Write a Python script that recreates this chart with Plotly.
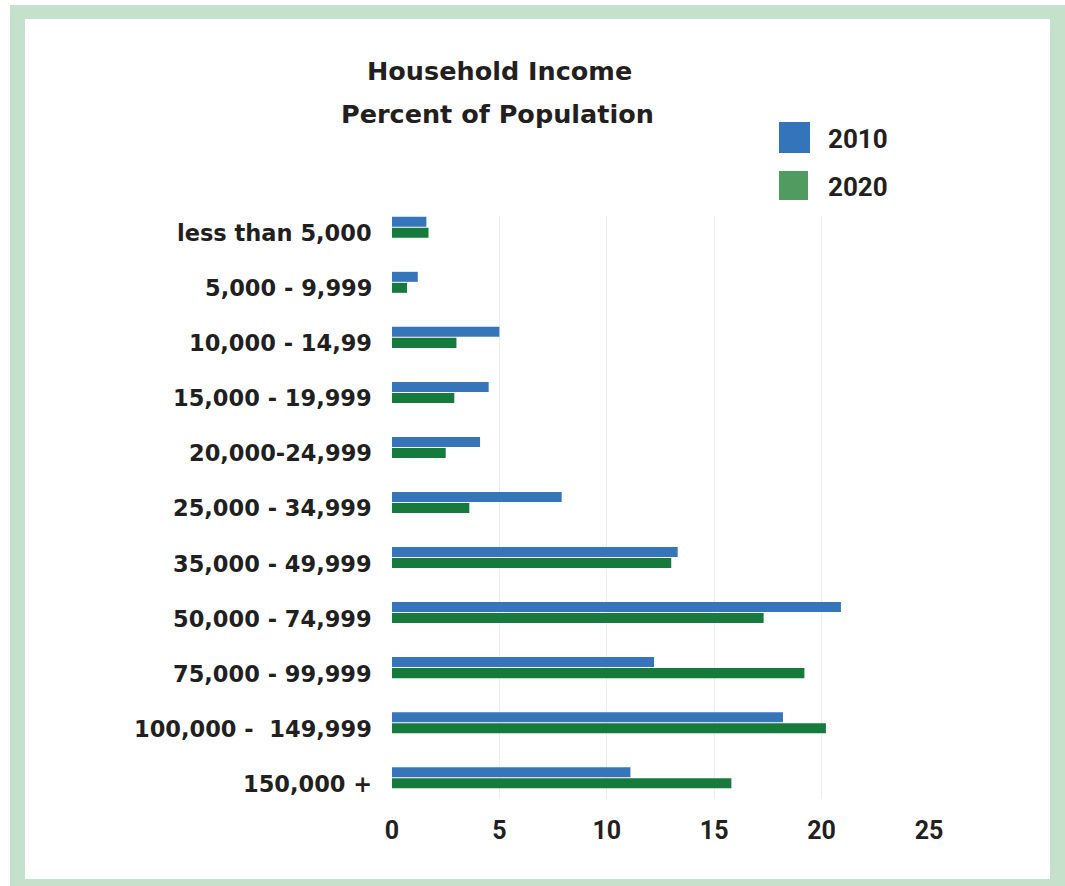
import plotly.graph_objects as go

categories = [
    "less than 5,000", "5,000 - 9,999", "10,000 - 14,99", "15,000 - 19,999",
    "20,000-24,999", "25,000 - 34,999", "35,000 - 49,999", "50,000 - 74,999",
    "75,000 - 99,999", "100,000 -  149,999", "150,000 +",
]
values_2010 = [1.6, 1.2, 5.0, 4.5, 4.1, 7.9, 13.3, 20.9, 12.2, 18.2, 11.1]
values_2020 = [1.7, 0.7, 3.0, 2.9, 2.5, 3.6, 13.0, 17.3, 19.2, 20.2, 15.8]
series_names = ["2010", "2020"]
x_ticks = [0, 5, 10, 15, 20, 25]

W, H = 1065, 886
ML, MR, MT, MB = 392, 136, 216, 87
PW, PH = W - ML - MR, H - MT - MB

def px(x):
    return (x - ML) / PW

def py(y):
    return (H - MB - y) / PH

TEXT = "#231f20"
BLUE = "#3775ba"
GREEN = "#177a3d"
BORDER = "#c5e0cb"
WIDE = "DejaVu Sans"
NARROW = "Roboto"

fig = go.Figure()
fig.add_trace(go.Bar(y=categories, x=values_2010, name=series_names[0], orientation="h",
                     marker=dict(color=BLUE, line=dict(width=0))))
fig.add_trace(go.Bar(y=categories, x=values_2020, name=series_names[1], orientation="h",
                     marker=dict(color=GREEN, line=dict(width=0))))

shapes = [
    dict(type="rect", xref="paper", yref="paper", x0=px(10), x1=px(1070), y0=py(5), y1=py(892),
         fillcolor=BORDER, line=dict(width=0), layer="below"),
    dict(type="rect", xref="paper", yref="paper", x0=px(25), x1=px(1050), y0=py(19), y1=py(879),
         fillcolor="white", line=dict(width=0), layer="below"),
    dict(type="rect", xref="paper", yref="paper", x0=px(779), x1=px(810), y0=py(122), y1=py(153),
         fillcolor="#3474ba", line=dict(width=0)),
    dict(type="rect", xref="paper", yref="paper", x0=px(779), x1=px(808), y0=py(171), y1=py(200),
         fillcolor="#509b60", line=dict(width=0)),
]

annotations = [
    dict(text="Household Income", x=px(499), y=py(71), xref="paper", yref="paper",
         showarrow=False, xanchor="center", yanchor="middle",
         font=dict(family=WIDE, size=25.5, color=TEXT, weight="bold")),
    dict(text="Percent of Population", x=px(497), y=py(114), xref="paper", yref="paper",
         showarrow=False, xanchor="center", yanchor="middle",
         font=dict(family=WIDE, size=25.5, color=TEXT, weight="bold")),
    dict(text=series_names[0], x=px(826), y=py(139), xref="paper", yref="paper",
         showarrow=False, xanchor="left", yanchor="middle",
         font=dict(family=NARROW, size=26, color=TEXT, weight="bold")),
    dict(text=series_names[1], x=px(826), y=py(187), xref="paper", yref="paper",
         showarrow=False, xanchor="left", yanchor="middle",
         font=dict(family=NARROW, size=26, color=TEXT, weight="bold")),
]
for cat in categories:
    annotations.append(dict(
        text=cat, x=0, y=cat, xref="paper", yref="y", showarrow=False,
        xanchor="right", yanchor="middle", xshift=-18, yshift=-6,
        font=dict(family=WIDE, size=22.5, color=TEXT, weight="bold"),
    ))

fig.update_layout(
    width=W, height=H,
    margin=dict(l=ML, r=MR, t=MT, b=MB, pad=0),
    paper_bgcolor="white",
    plot_bgcolor="rgba(0,0,0,0)",
    barmode="group",
    bargap=0.6,
    bargroupgap=0.09,
    showlegend=False,
    shapes=shapes,
    annotations=annotations,
    xaxis=dict(range=[0, 25], tickvals=x_ticks, showgrid=True, gridcolor="#ededed", gridwidth=1,
               zeroline=False, showline=False, ticks="",
               tickfont=dict(family=NARROW, size=25, color=TEXT, weight="bold"),
               ticklabelstandoff=14),
    yaxis=dict(categoryorder="array", categoryarray=categories,
               range=[len(categories) - 1 + 0.387, -0.205],
               showgrid=False, zeroline=False, showline=False, ticks="",
               showticklabels=False),
)

fig.write_html(
    "out.html",
    config={"displayModeBar": False},
    post_script="document.body.style.margin='0px';document.body.style.overflow='hidden';",
)
